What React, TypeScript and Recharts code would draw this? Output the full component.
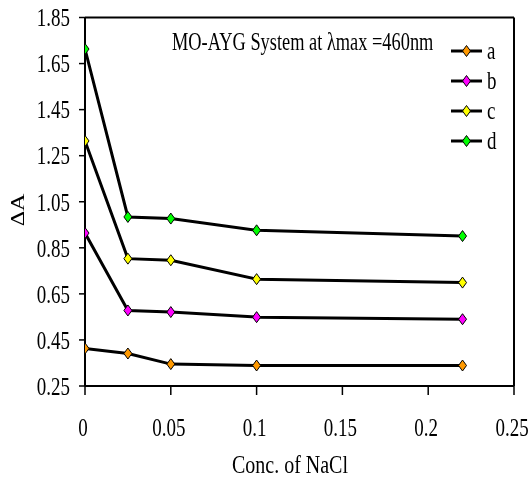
import React from "react";
import { LineChart, Line, XAxis, YAxis, Legend, ReferenceLine } from "recharts";

// NaCl concentration (x) and ΔA for the four series
const conc = [0, 0.025, 0.05, 0.1, 0.22];
const seriesA = [0.413, 0.391, 0.345, 0.339, 0.339];
const seriesB = [0.914, 0.578, 0.571, 0.549, 0.54];
const seriesC = [1.314, 0.803, 0.796, 0.714, 0.699];
const seriesD = [1.713, 0.984, 0.977, 0.926, 0.901];

const xTicks = [0, 0.05, 0.1, 0.15, 0.2, 0.25];
const yTicks = [0.25, 0.45, 0.65, 0.85, 1.05, 1.25, 1.45, 1.65, 1.85];

const series = [
  { key: "a", color: "#FF9900" },
  { key: "b", color: "#FF00FF" },
  { key: "c", color: "#FFFF00" },
  { key: "d", color: "#00FF00" },
];

const data = conc.map((x, i) => ({
  x,
  a: seriesA[i],
  b: seriesB[i],
  c: seriesC[i],
  d: seriesD[i],
}));

const FONT = '"Liberation Serif", "DejaVu Serif", serif';
const SX = 0.76;
const txt = { fontFamily: FONT, fontSize: 25, fill: "#000" };

const diamond = (cx: number, cy: number) =>
  `M${cx},${cy - 5.5} L${cx + 4},${cy} L${cx},${cy + 5.5} L${cx - 4},${cy} Z`;

const makeDot = (color: string) => (props: any) => {
  const { cx, cy, index } = props;
  if (cx == null || cy == null) return null;
  return (
    <path
      key={`dot-${color}-${index}`}
      d={diamond(cx, cy)}
      fill={color}
      stroke="#000"
      strokeWidth={1}
    />
  );
};

const YTick = (props: any) => {
  const { x, y, payload } = props;
  return (
    <text
      transform={`translate(${x},${y}) scale(${SX},1)`}
      textAnchor="end"
      dy="0.35em"
      style={txt}
    >
      {String(payload.value)}
    </text>
  );
};

const XTick = (props: any) => {
  const { x, y, payload } = props;
  return (
    <text
      transform={`translate(${x - 2},${y + 41}) scale(${SX},1)`}
      textAnchor="middle"
      style={txt}
    >
      {String(payload.value)}
    </text>
  );
};

const renderLegend = () => (
  <div>
    {series.map((s) => (
      <svg key={s.key} width={70} height={30} style={{ display: "block" }}>
        <line x1={0} y1={15} x2={31} y2={15} stroke="#000" strokeWidth={3} />
        <path d={diamond(15.5, 15)} fill={s.color} stroke="#000" strokeWidth={1} />
        <text transform={`translate(36,23) scale(${SX},1)`} style={txt}>
          {s.key}
        </text>
      </svg>
    ))}
  </div>
);

export default function App() {
  return (
    <div style={{ position: "fixed", left: 0, top: 0, width: 532, height: 480 }}>
      <LineChart
        width={532}
        height={480}
        data={data}
        margin={{ top: 17.5, right: 18, left: 25, bottom: 34 }}
      >
        <XAxis
          dataKey="x"
          type="number"
          domain={[0, 0.25]}
          ticks={xTicks}
          height={60}
          tickSize={9}
          tickMargin={0}
          tick={<XTick />}
          stroke="#000"
          strokeWidth={2}
          tickLine={{ stroke: "#000", strokeWidth: 1.5 }}
          allowDataOverflow
        />
        <YAxis
          type="number"
          domain={[0.25, 1.85]}
          ticks={yTicks}
          width={60}
          tickSize={6}
          tickMargin={9}
          tick={<YTick />}
          stroke="#000"
          strokeWidth={2}
          tickLine={{ stroke: "#000", strokeWidth: 1.5 }}
          allowDataOverflow
        />
        <ReferenceLine y={1.85} stroke="#000" strokeWidth={2} />
        <ReferenceLine x={0.25} stroke="#000" strokeWidth={2} />
        <Legend
          layout="vertical"
          align="center"
          verticalAlign="middle"
          content={renderLegend}
          wrapperStyle={{ left: 451, top: 36, width: 70, height: 120 }}
        />
        {series.map((s) => (
          <Line
            key={s.key}
            dataKey={s.key}
            type="linear"
            stroke="#000"
            strokeWidth={3}
            dot={makeDot(s.color)}
            activeDot={false}
            isAnimationActive={false}
          />
        ))}
        <text transform="translate(172,50) scale(0.735,1)" style={txt}>
          MO-AYG System at λmax =460nm
        </text>
        <text
          transform="translate(290,473) scale(0.8,1)"
          textAnchor="middle"
          style={txt}
        >
          Conc. of NaCl
        </text>
        <text
          transform="translate(24,210) scale(0.76,1) rotate(-90)"
          textAnchor="middle"
          style={{ ...txt, fontSize: 24 }}
        >
          ΔA
        </text>
      </LineChart>
    </div>
  );
}
